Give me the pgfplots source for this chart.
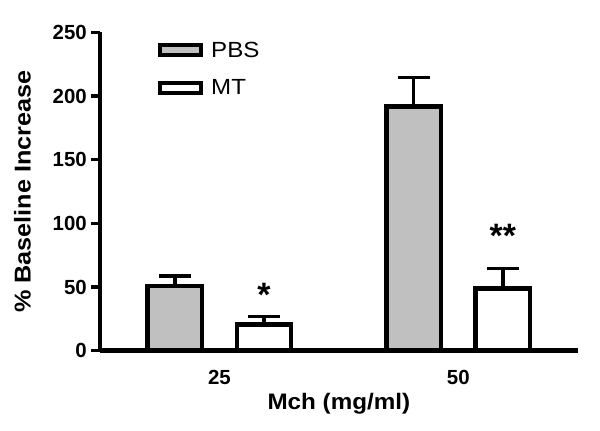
\documentclass[border=0pt]{standalone}
\usepackage{fontspec}
\setmainfont{Liberation Sans}
\usepackage{pgfplots}
\pgfplotsset{compat=1.18}
\definecolor{pbsgray}{RGB}{192,192,192}
\begin{document}
\begin{tikzpicture}[x=1bp,y=1bp]
\path[use as bounding box] (-100,-79.3) rectangle (500,350.7);
\begin{axis}[
  at={(0,0)}, anchor=south west,
  scale only axis, width=477.7bp, height=318.4bp,
  xmin=-0.5, xmax=1.5, ymin=0, ymax=250,
  axis lines=left,
  axis line style={-, line width=4.5bp},
  ybar, bar width=0.228, bar shift=0pt,
  ytick={0,50,100,150,200,250},
  xtick={0,1}, xticklabels={25,50},
  tick align=outside,
  major tick length=9bp,
  ytick style={line width=3.5bp, black},
  xtick style={draw=none},
  /pgf/number format/assume math mode=true,
  ticklabel style={font=\bfseries\fontsize{20.5}{20.5}\selectfont},
  yticklabel style={inner sep=0pt, xshift=-4bp},
  xticklabel style={inner sep=0pt, yshift=-10bp},
  ylabel={\scalebox{1.1}[1]{\% Baseline Increase}},
  ylabel style={font=\bfseries\fontsize{23}{23}\selectfont, at={(axis description cs:-0.1622,0.5)}, anchor=center},
  xlabel={\scalebox{1.08}[1]{Mch (mg/ml)}},
  xlabel style={font=\bfseries\fontsize{22.5}{22.5}\selectfont, at={(axis description cs:0.5,-0.1862)}, anchor=base},
  legend style={at={(axis description cs:0.1214,0.9705)}, anchor=north west, draw=none, fill=none, inner sep=0pt,
    font=\fontsize{22}{22}\selectfont, row sep=21bp, column sep=8bp, nodes={inner sep=0pt}},
  legend cell align=left,
  clip=false,
]
\addlegendimage{legend image code/.code={\draw[line width=4bp, fill=pbsgray] (2bp,-5bp) rectangle (43bp,5bp);}}
\addlegendimage{legend image code/.code={\draw[line width=4bp, fill=white] (2bp,-5bp) rectangle (43bp,5bp);}}
\legend{\scalebox{1.1}[1]{PBS},\scalebox{1.1}[1]{MT}}
% PBS
\addplot[forget plot, fill=pbsgray, draw=black, line width=4.5bp,
  error bars/.cd, y dir=plus, y explicit,
  error bar style={line width=3.5bp, black},
  error mark options={rotate=90, mark size=16bp, line width=3.5bp, black}]
  coordinates {(-0.1866,51.0) +- (0,7.7) (0.8134,191.6) +- (0,23.1)};
% MT
\addplot[forget plot, fill=white, draw=black, line width=4.5bp,
  error bars/.cd, y dir=plus, y explicit,
  error bar style={line width=3.5bp, black},
  error mark options={rotate=90, mark size=16bp, line width=3.5bp, black}]
  coordinates {(0.1866,20.7) +- (0,6.0) (1.1866,49.0) +- (0,15.4)};
\node[anchor=north, inner sep=0pt, font=\bfseries\fontsize{34}{34}\selectfont] at (axis cs:0.1866,53.2) {*};
\node[anchor=north, inner sep=0pt, font=\bfseries\fontsize{34}{34}\selectfont] at (axis cs:1.1866,99.5) {**};
\end{axis}
\end{tikzpicture}
\end{document}
